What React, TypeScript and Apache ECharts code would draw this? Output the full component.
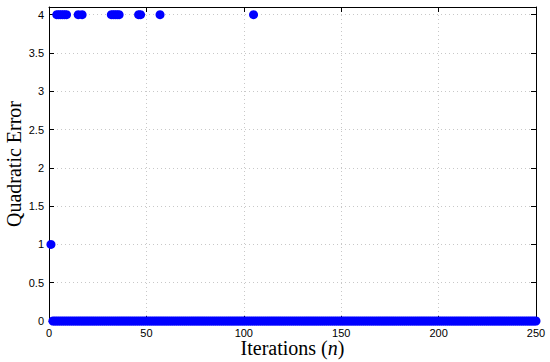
import React, { useEffect, useRef } from "react";
import * as echarts from "echarts";

const N_ITER = 250;
const ITER_ERR4 = [4, 5, 6, 7, 8, 9, 15, 17, 32, 33, 34, 35, 36, 46, 47, 57, 105];
const ITER_ERR1 = [1];
const X_TICKS = [0, 50, 100, 150, 200, 250];
const Y_TICKS = [0, 0.5, 1, 1.5, 2, 2.5, 3, 3.5, 4];

function buildZeroPoints(): [number, number][] {
  const pts: [number, number][] = [];
  for (let n = 1; n <= N_ITER; n++) {
    if (!ITER_ERR1.includes(n)) pts.push([n, 0]);
  }
  return pts;
}
function buildNonZeroPoints(): [number, number][] {
  return [
    ...ITER_ERR1.map((n) => [n, 1] as [number, number]),
    ...ITER_ERR4.map((n) => [n, 4] as [number, number]),
  ];
}

export default function App() {
  const ref = useRef<HTMLDivElement>(null);
  useEffect(() => {
    if (!ref.current) return;
    const chart = echarts.init(ref.current, null, { renderer: "svg" });
    const tickFont = { fontFamily: "Liberation Sans, Arial, sans-serif", fontSize: 11, color: "#000" };
    const gridLine = { show: true, lineStyle: { color: "#c8c8c8", type: [1, 3] as any, width: 1 } };
    const marker = {
      type: "scatter",
      xAxisIndex: 0,
      yAxisIndex: 0,
      symbol: "circle",
      symbolSize: 9,
      itemStyle: { color: "#0000ff", opacity: 1 },
      clip: false,
    };
    chart.setOption({
      animation: false,
      backgroundColor: "#fff",
      grid: { left: 49, right: 14, top: 7, bottom: 41, containLabel: false, outerBoundsMode: "none" },
      xAxis: [
        {
          type: "value",
          min: 0,
          max: 250,
          interval: 50,
          axisLine: { show: true, onZero: false, lineStyle: { color: "#000", width: 1 } },
          axisTick: { show: true, inside: true, length: 5, lineStyle: { color: "#000" } },
          axisLabel: { ...tickFont, margin: 6, formatter: (v: number) => (X_TICKS.includes(v) ? String(v) : "") },
          splitLine: gridLine,
          name: "{a|Iterations (}{b|n}{a|)}",
          nameLocation: "middle",
          nameGap: 17,
          nameMoveOverlap: false,
          nameTextStyle: {
            rich: {
              a: { fontFamily: "Liberation Serif, serif", fontSize: 20, color: "#000" },
              b: { fontFamily: "Liberation Serif, serif", fontSize: 20, fontStyle: "italic", color: "#000" },
            },
          },
        },
        {
          type: "value",
          position: "top",
          min: 0,
          max: 250,
          interval: 50,
          axisLine: { show: true, onZero: false, lineStyle: { color: "#000", width: 1 } },
          axisTick: { show: true, inside: true, length: 5, lineStyle: { color: "#000" } },
          axisLabel: { show: false },
          splitLine: { show: false },
        },
      ],
      yAxis: [
        {
          type: "value",
          min: 0,
          max: 4.1,
          interval: 0.5,
          axisLine: { show: true, onZero: false, lineStyle: { color: "#000", width: 1 } },
          axisTick: { show: true, inside: true, length: 5, lineStyle: { color: "#000" } },
          axisLabel: {
            ...tickFont,
            margin: 5,
            showMaxLabel: false,
            formatter: (v: number) => (Y_TICKS.includes(v) ? String(v) : ""),
          },
          splitLine: gridLine,
          name: "Quadratic Error",
          nameLocation: "middle",
          nameGap: 25,
          nameMoveOverlap: false,
          nameTextStyle: { fontFamily: "Liberation Serif, serif", fontSize: 20, color: "#000" },
        },
        {
          type: "value",
          position: "right",
          min: 0,
          max: 4.1,
          interval: 0.5,
          axisLine: { show: true, onZero: false, lineStyle: { color: "#000", width: 1 } },
          axisTick: { show: true, inside: true, length: 5, lineStyle: { color: "#000" } },
          axisLabel: { show: false },
          splitLine: { show: false },
        },
      ],
      series: [
        { ...marker, data: buildZeroPoints() },
        { ...marker, data: buildNonZeroPoints() },
      ],
    });
    return () => chart.dispose();
  }, []);
  return <div ref={ref} style={{ width: 550, height: 362, position: "absolute", left: 0, top: 0 }} />;
}
